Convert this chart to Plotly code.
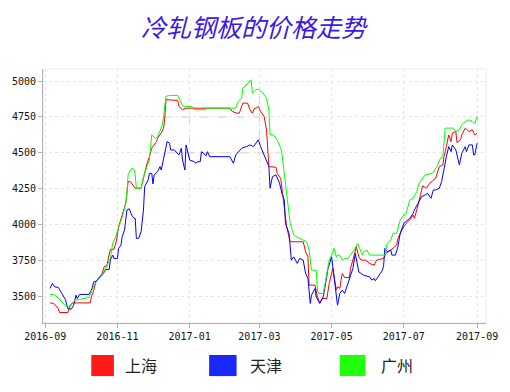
import plotly.graph_objects as go

# 上海
sh_dates = ["2016-09-05","2016-09-08","2016-09-09","2016-09-12","2016-09-13","2016-09-20","2016-09-22","2016-09-24",
            "2016-10-09","2016-10-10","2016-10-12","2016-10-14","2016-10-17","2016-10-19","2016-10-21","2016-10-23",
            "2016-10-24","2016-10-26","2016-10-29","2016-10-31","2016-11-02","2016-11-05","2016-11-08","2016-11-09",
            "2016-11-10","2016-11-12","2016-11-16","2016-11-21","2016-11-24","2016-11-26","2016-11-28","2016-11-30",
            "2016-12-02","2016-12-04","2016-12-05","2016-12-08","2016-12-10","2016-12-11","2016-12-12","2016-12-22",
            "2016-12-23","2016-12-26","2016-12-29","2017-01-14","2017-02-04","2017-02-06","2017-02-10","2017-02-12",
            "2017-02-15","2017-02-19","2017-02-21","2017-02-23","2017-02-25","2017-02-26","2017-02-28","2017-03-02",
            "2017-03-05","2017-03-07","2017-03-08","2017-03-09","2017-03-15","2017-03-16","2017-03-19","2017-03-20",
            "2017-03-22","2017-03-24","2017-03-26","2017-03-27","2017-04-07","2017-04-09","2017-04-11","2017-04-12",
            "2017-04-17","2017-04-19","2017-04-21","2017-04-23","2017-04-27","2017-04-29","2017-05-02","2017-05-04",
            "2017-05-05","2017-05-06","2017-05-08","2017-05-09","2017-05-10","2017-05-12","2017-05-16","2017-05-17",
            "2017-05-20","2017-05-22","2017-05-24","2017-05-26","2017-05-30","2017-06-02","2017-06-06","2017-06-08",
            "2017-06-14","2017-06-16","2017-06-20","2017-06-22","2017-06-25","2017-06-26","2017-06-28","2017-07-01",
            "2017-07-03","2017-07-06","2017-07-09","2017-07-10","2017-07-12","2017-07-14","2017-07-17","2017-07-20",
            "2017-07-23","2017-07-28","2017-07-31","2017-08-03","2017-08-04","2017-08-06","2017-08-07","2017-08-08",
            "2017-08-10","2017-08-11","2017-08-14","2017-08-15","2017-08-18","2017-08-19","2017-08-22","2017-08-25",
            "2017-08-28","2017-08-30","2017-09-01"]
sh_values = [3454,3450,3443,3415,3387,3387,3438,3454,
             3454,3496,3543,3608,3631,3659,3710,3710,
             3752,3827,3827,3880,3985,4066,4148,4218,
             4299,4299,4253,4253,4357,4427,4473,4532,
             4555,4578,4602,4637,4672,4742,4870,4865,
             4823,4800,4811,4811,4811,4788,4776,4776,
             4846,4846,4800,4776,4811,4811,4823,4788,
             4753,4660,4520,4404,4399,4357,4323,4241,
             4120,3985,3927,3880,3880,3810,3775,3578,
             3578,3496,3454,3485,3485,3590,3694,3590,
             3543,3566,3555,3613,3659,3631,3631,3694,
             3775,3845,3775,3752,3752,3729,3717,3752,
             3764,3799,3822,3834,3857,3904,3939,3985,
             4008,4031,4066,4043,4101,4171,4270,4253,
             4288,4323,4404,4415,4473,4543,4590,4625,
             4578,4637,4648,4571,4590,4625,4672,4648,
             4660,4625,4637]

# 天津
tj_dates = ["2016-09-05","2016-09-07","2016-09-09","2016-09-12","2016-09-15","2016-09-18","2016-09-20","2016-09-23",
            "2016-09-25","2016-09-27","2016-09-28","2016-09-30","2016-10-08","2016-10-10","2016-10-12","2016-10-14",
            "2016-10-17","2016-10-19","2016-10-21","2016-10-22","2016-10-25","2016-10-26","2016-10-28","2016-10-29",
            "2016-11-01","2016-11-02","2016-11-04","2016-11-05","2016-11-07","2016-11-09","2016-11-11","2016-11-13",
            "2016-11-15","2016-11-16","2016-11-17","2016-11-19","2016-11-21","2016-11-23","2016-11-24","2016-11-27",
            "2016-11-28","2016-11-30","2016-12-01","2016-12-02","2016-12-05","2016-12-07","2016-12-08","2016-12-11",
            "2016-12-13","2016-12-15","2016-12-16","2016-12-19","2016-12-23","2016-12-25","2016-12-26","2016-12-28",
            "2016-12-29","2016-12-30","2017-01-01","2017-01-05","2017-01-06","2017-01-08","2017-01-10","2017-01-11",
            "2017-01-13","2017-01-15","2017-01-16","2017-01-18","2017-02-04","2017-02-07","2017-02-09","2017-02-14",
            "2017-02-18","2017-02-21","2017-02-24","2017-02-26","2017-02-28","2017-03-02","2017-03-05","2017-03-07",
            "2017-03-09","2017-03-10","2017-03-12","2017-03-15","2017-03-18","2017-03-20","2017-03-22","2017-03-23",
            "2017-03-26","2017-03-28","2017-03-30","2017-04-02","2017-04-04","2017-04-07","2017-04-09","2017-04-11",
            "2017-04-13","2017-04-14","2017-04-17","2017-04-18","2017-04-21","2017-04-24","2017-04-28","2017-05-01",
            "2017-05-04","2017-05-06","2017-05-08","2017-05-10","2017-05-12","2017-05-13","2017-05-16","2017-05-19",
            "2017-05-21","2017-05-24","2017-05-28","2017-06-02","2017-06-04","2017-06-06","2017-06-07","2017-06-10",
            "2017-06-13","2017-06-14","2017-06-15","2017-06-17","2017-06-20","2017-06-21","2017-06-24","2017-06-26",
            "2017-06-28","2017-07-01","2017-07-03","2017-07-06","2017-07-09","2017-07-10","2017-07-13","2017-07-16",
            "2017-07-19","2017-07-21","2017-07-24","2017-07-26","2017-07-28","2017-07-31","2017-08-02","2017-08-04",
            "2017-08-06","2017-08-08","2017-08-10","2017-08-11","2017-08-14","2017-08-17","2017-08-19","2017-08-22",
            "2017-08-23","2017-08-25","2017-08-28","2017-08-29","2017-08-30","2017-09-01"]
tj_values = [3555,3590,3566,3562,3520,3478,3415,3410,
             3438,3508,3485,3513,3513,3543,3600,3605,
             3636,3647,3670,3687,3687,3752,3787,3764,
             3764,3834,3857,3915,3962,4101,4110,4066,
             4043,4043,3904,3904,3950,4101,4264,4311,
             4357,4357,4283,4346,4369,4404,4380,4497,
             4578,4567,4520,4520,4485,4532,4450,4380,
             4555,4520,4450,4438,4427,4438,4438,4508,
             4497,4480,4508,4473,4473,4427,4485,4532,
             4543,4555,4543,4567,4590,4543,4485,4450,
             4404,4253,4334,4346,4288,4218,4171,4008,
             3939,3752,3775,3729,3764,3752,3659,3624,
             3450,3508,3555,3496,3450,3496,3694,3775,
             3566,3438,3520,3543,3520,3543,3613,3694,
             3799,3670,3647,3636,3613,3624,3608,3647,
             3682,3717,3834,3810,3822,3787,3787,3845,
             3939,4008,4020,4043,4078,4101,4148,4194,
             4206,4218,4183,4241,4241,4253,4299,4392,
             4473,4543,4508,4555,4520,4415,4497,4543,
             4508,4555,4555,4485,4485,4567]

# 广州
gz_dates = ["2016-09-05","2016-09-08","2016-09-11","2016-09-15","2016-09-19","2016-09-22","2016-09-24","2016-09-26",
            "2016-09-30","2016-10-08","2016-10-11","2016-10-14","2016-10-18","2016-10-22","2016-10-26","2016-10-28",
            "2016-10-30","2016-11-01","2016-11-04","2016-11-06","2016-11-08","2016-11-09","2016-11-10","2016-11-13",
            "2016-11-15","2016-11-16","2016-11-17","2016-11-21","2016-11-23","2016-11-26","2016-11-28","2016-11-30",
            "2016-12-03","2016-12-05","2016-12-07","2016-12-09","2016-12-10","2016-12-12","2016-12-15","2016-12-22",
            "2016-12-23","2016-12-26","2016-12-28","2017-01-03","2017-01-05","2017-01-14","2017-01-16","2017-02-09",
            "2017-02-11","2017-02-14","2017-02-15","2017-02-18","2017-02-20","2017-02-22","2017-02-23","2017-02-26",
            "2017-02-28","2017-03-04","2017-03-07","2017-03-09","2017-03-10","2017-03-13","2017-03-16","2017-03-19",
            "2017-03-20","2017-03-22","2017-03-24","2017-03-27","2017-03-30","2017-03-31","2017-04-10","2017-04-12",
            "2017-04-14","2017-04-18","2017-04-19","2017-04-20","2017-04-24","2017-04-25","2017-04-29","2017-05-01",
            "2017-05-03","2017-05-05","2017-05-06","2017-05-08","2017-05-10","2017-05-12","2017-05-15","2017-05-17",
            "2017-05-20","2017-05-23","2017-05-25","2017-05-27","2017-05-28","2017-05-31","2017-06-02","2017-06-15",
            "2017-06-17","2017-06-20","2017-06-22","2017-06-25","2017-06-28","2017-07-01","2017-07-03","2017-07-06",
            "2017-07-09","2017-07-12","2017-07-14","2017-07-19","2017-07-25","2017-07-29","2017-08-01","2017-08-03",
            "2017-08-04","2017-08-05","2017-08-12","2017-08-14","2017-08-17","2017-08-19","2017-08-22","2017-08-25",
            "2017-08-28","2017-08-30","2017-09-01"]
gz_values = [3513,3513,3496,3461,3426,3426,3450,3473,
             3478,3492,3555,3601,3636,3694,3764,3869,
             3904,3950,4020,4078,4148,4220,4346,4392,
             4385,4346,4253,4253,4334,4404,4450,4625,
             4602,4613,4660,4695,4753,4893,4900,4900,
             4881,4828,4823,4823,4800,4800,4811,4811,
             4858,4881,4951,4974,4990,5009,4916,4939,
             4944,4916,4881,4800,4625,4625,4590,4532,
             4497,4357,4200,4008,3927,3920,3880,3822,
             3682,3682,3543,3520,3520,3566,3752,3787,
             3834,3775,3787,3787,3752,3764,3764,3787,
             3822,3869,3822,3787,3810,3822,3787,3787,
             3869,3892,3939,3939,4031,4066,4078,4171,
             4183,4230,4288,4346,4357,4404,4462,4473,
             4567,4672,4672,4648,4660,4695,4718,4730,
             4718,4702,4753]

series_names = ["上海", "天津", "广州"]
series_colors = ["#ff0000", "#0000ff", "#00ff00"]
legend_colors = ["#ff1a1a", "#1a28ff", "#22ff0a"]

y_ticks = [3500, 3750, 4000, 4250, 4500, 4750, 5000]
x_ticks = ["2016-09-01", "2016-11-01", "2017-01-01", "2017-03-01", "2017-05-01", "2017-07-01", "2017-09-01"]
x_tick_labels = ["2016-09", "2016-11", "2017-01", "2017-03", "2017-05", "2017-07", "2017-09"]

title_text = "冷轧钢板的价格走势"

fig = go.Figure()
for name, xs, ys, col in zip(series_names, [sh_dates, tj_dates, gz_dates],
                             [sh_values, tj_values, gz_values], series_colors):
    fig.add_trace(go.Scatter(x=xs, y=ys, mode="lines", name=name,
                             line=dict(color=col, width=1), showlegend=False))

# darker dashed grid segments inside the price band
band_lines = [
    dict(x0="2016-12-10", x1="2017-03-06", y0=4750, y1=4750),
    dict(x0="2016-11-28", x1="2017-03-19", y0=4500, y1=4500),
    dict(x0="2017-01-01", x1="2017-01-01", y0=4440, y1=4811),
    dict(x0="2017-03-01", x1="2017-03-01", y0=4590, y1=4944),
    dict(x0="2017-05-01", x1="2017-06-15", y0=3750, y1=3750),
    dict(x0="2017-04-16", x1="2017-05-01", y0=3500, y1=3500),
    dict(x0="2017-07-01", x1="2017-07-01", y0=3985, y1=4066),
]
for b in band_lines:
    fig.add_shape(type="line", xref="x", yref="y", **b,
                  line=dict(color="#c8c8c8", width=1, dash="dash"), layer="below")

# plot frame
fig.add_shape(type="rect", xref="paper", yref="paper", x0=0, x1=1, y0=0, y1=1,
              line=dict(color="#ececec", width=1), layer="below")

# custom legend (square left edge, text left edge, square width in paper units)
leg_sq_x = [0.109, 0.375, 0.670]
leg_txt_x = [0.180, 0.463, 0.758]
leg_sq_w = [0.051, 0.062, 0.058]
for i, (name, col) in enumerate(zip(series_names, legend_colors)):
    fig.add_shape(type="rect", xref="paper", yref="paper",
                  x0=leg_sq_x[i], x1=leg_sq_x[i] + leg_sq_w[i], y0=-0.209, y1=-0.126,
                  fillcolor=col, line=dict(width=0))
    fig.add_annotation(xref="paper", yref="paper", x=leg_txt_x[i], y=-0.167,
                       text=name, showarrow=False, xanchor="left", yanchor="middle",
                       font=dict(family="Noto Sans CJK SC", size=16, color="#222"))

fig.update_layout(
    width=510, height=392,
    margin=dict(l=43, r=16, t=69, b=69),
    paper_bgcolor="white", plot_bgcolor="white",
    title=dict(text=f"<i>{title_text}</i>", x=0.497, xanchor="center", y=0.928, yanchor="middle",
               font=dict(family="Noto Sans CJK SC", size=25, color="#3a18e8")),
    showlegend=False,
    font=dict(family="DejaVu Sans Mono", size=10, color="#111"),
)
fig.update_xaxes(
    type="date", range=["2016-08-30 02:00", "2017-09-08 12:00"],
    tickvals=x_ticks, ticktext=x_tick_labels,
    showgrid=True, gridcolor="#e6e6e6", griddash="dot", gridwidth=1,
    showline=True, linecolor="#b0b0b0", linewidth=1,
    ticks="outside", ticklen=4, tickcolor="#b0b0b0",
    zeroline=False,
)
fig.update_yaxes(
    range=[3314, 5084],
    tickvals=y_ticks,
    showgrid=True, gridcolor="#e6e6e6", griddash="dot", gridwidth=1,
    showline=True, linecolor="#b0b0b0", linewidth=1,
    ticks="outside", ticklen=4, tickcolor="#b0b0b0",
    zeroline=False,
)

fig.write_html("out.html")
